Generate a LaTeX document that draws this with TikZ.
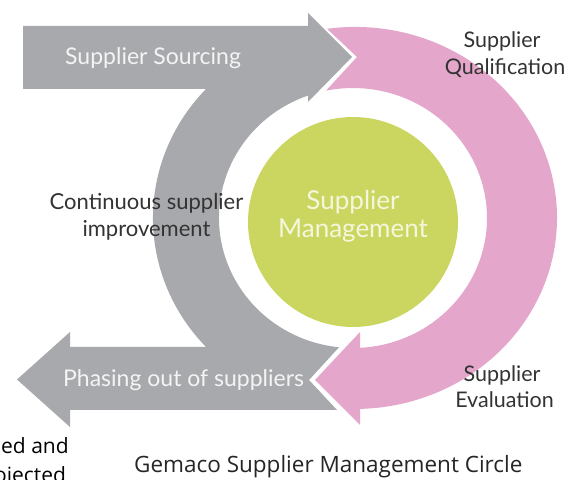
\documentclass[tikz,border=0pt]{standalone}
\usepackage{fontspec}
\setmainfont{Lato}
\newfontfamily\capfont{Open Sans}
\definecolor{graycol}{HTML}{A7A9AC}
\definecolor{pinkcol}{HTML}{E4A6CB}
\definecolor{greencol}{HTML}{CBD660}
\definecolor{lighttext}{HTML}{F4F4F4}
\definecolor{greentext}{HTML}{F4F7DC}
\definecolor{darktext}{HTML}{333333}
\begin{document}
\begin{tikzpicture}[x=1pt,y=1pt,
  graylabel/.style={text=lighttext,font=\fontsize{23}{27}\selectfont,inner sep=0pt},
  outlabel/.style={text=darktext,font=\fontsize{21.5}{25}\selectfont,inner sep=0pt},
  contlabel/.style={text=darktext,font=\fontsize{22}{26}\selectfont,inner sep=0pt},
  greenlabel/.style={text=greentext,font=\fontsize{26}{30}\selectfont,inner sep=0pt},
  caplabel/.style={text=black!85,font=\capfont\fontsize{22.5}{26}\selectfont,inner sep=0pt},
  sidelabel/.style={text=black,font=\capfont\fontsize{21}{25}\selectfont,inner sep=0pt}]
\useasboundingbox (0,0) rectangle (578,479);
\clip (0,0) rectangle (578,479);
\fill[white] (0,0) rectangle (578,479);
% grey band: sourcing arrow, improvement arc, phasing-out arrow
\path[fill=graycol] (23,453) -- (308,453) -- (308,466) -- (352,422) -- (308,377) -- (308,383.45)
  arc[start angle=109.62,end angle=264.0,x radius=134,y radius=130]
  -- (309,99) -- (337,69) -- (70,69) -- (70,52) -- (17,99.5) -- (70,147) -- (70,132) -- (206,132)
  arc[start angle=222.5,end angle=137.5,x radius=202,y radius=191]
  -- (23,390) -- cycle;
% pink band: qualification to evaluation
\path[fill=pinkcol] (327,450.2)
  arc[start angle=97.97,end angle=-88.58,x radius=202,y radius=191]
  -- (360,54) -- (315,99) -- (360,147) -- (360,131.18)
  arc[start angle=-87.0,end angle=101.62,x radius=134,y radius=130]
  -- (357,422) -- cycle;
% core circle
\node[circle,fill=greencol,minimum size=210pt,inner sep=0pt] (core) at (353,257) {};
\node[greenlabel,anchor=base] (core1) at (353,269) {Supplier};
\node[greenlabel,anchor=base] (core2) at (353,241) {Management};
% labels on grey arrows
\node[graylabel,anchor=base west] (src) at (65,414) {Supplier Sourcing};
\node[graylabel,anchor=base west] (phase) at (63,92) {Phasing out of suppliers};
% outside labels
\node[contlabel,anchor=base] (cont1) at (146.5,269) {Continuous supplier};
\node[contlabel,anchor=base] (cont2) at (146.5,242) {improvement};
\node[outlabel,anchor=base] (qual1) at (502,431) {Supplier};
\node[outlabel,anchor=base] (qual2) at (505,404) {Qualification};
\node[outlabel,anchor=base] (eval1) at (502,97) {Supplier};
\node[outlabel,anchor=base] (eval2) at (504.5,71) {Evaluation};
% caption and cut-off side text
\node[caplabel,anchor=base west] (caption) at (134,6.5) {Gemaco Supplier Management Circle};
\node[sidelabel,anchor=base west] (side1) at (1,25) {ed and};
\node[sidelabel,anchor=base west] (side2) at (-6,-3) {ojected};
\end{tikzpicture}
\end{document}
